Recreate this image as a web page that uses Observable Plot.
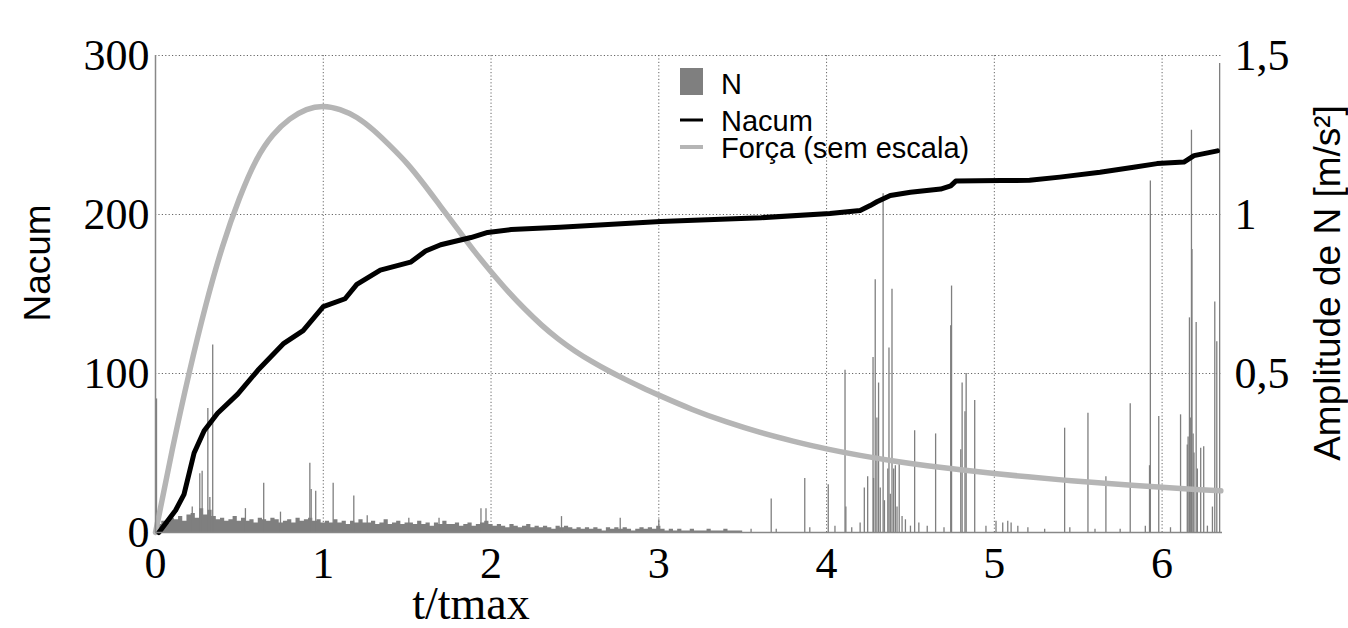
<!DOCTYPE html>
<html><head><meta charset="utf-8">
<script src="https://cdn.jsdelivr.net/npm/d3@7"></script>
<script src="https://cdn.jsdelivr.net/npm/@observablehq/plot@0.6"></script>
<style>
body{margin:0;background:#fff;}
#wrap{position:relative;width:1348px;height:628px;overflow:hidden;}
#leg{position:absolute;left:0;top:0;pointer-events:none;}
</style></head><body><div id="wrap"></div>
<script>
// ---------- data ----------
const xTicks = [0, 1, 2, 3, 4, 5, 6];
const leftTicks = [0, 100, 200, 300];
const rightTicks = [0.5, 1, 1.5];

// Força (sem escala) curve, drawn on the Nacum scale
const forceT = [0, 0.1, 0.2, 0.3, 0.4, 0.5, 0.6, 0.7, 0.8, 0.9, 1.0, 1.1, 1.2, 1.3, 1.4, 1.5, 1.6, 1.7, 1.8, 1.9, 2.0, 2.1, 2.2, 2.3, 2.4, 2.5, 2.6, 2.7, 2.8, 2.9, 3.0, 3.2, 3.4, 3.6, 3.8, 4.0, 4.2, 4.4, 4.6, 4.8, 5.0, 5.2, 5.4, 5.6, 5.8, 6.0, 6.2, 6.35];
const forceV = [0, 52, 100, 143, 180, 210, 234, 250, 260, 266, 268, 266, 261, 253, 243, 232, 219, 205, 191, 177, 164, 151.8, 140.7, 130.6, 121.8, 114.2, 107.6, 101.7, 96.3, 91.2, 86.4, 77.4, 69.7, 63.1, 57.5, 52.6, 48.5, 45, 42, 39.4, 37.1, 35, 33.1, 31.4, 29.9, 28.4, 27.1, 26.2];

// Nacum cumulative count
const nacumT = [0.02, 0.12, 0.17, 0.23, 0.29, 0.37, 0.49, 0.61, 0.765, 0.88, 1.0, 1.13, 1.2, 1.34, 1.52, 1.61, 1.7, 1.88, 1.98, 2.12, 2.41, 3.01, 3.61, 4.02, 4.2, 4.26, 4.3, 4.38, 4.5, 4.68, 4.74, 4.77, 5.04, 5.21, 5.39, 5.63, 5.83, 5.97, 6.13, 6.19, 6.33];
const nacumV = [0, 14, 24, 50, 64, 75, 87, 102, 119, 127, 142, 147, 156, 165, 170, 177, 181, 185.5, 188.7, 190.5, 192, 195.6, 198, 200.6, 202.5, 205.6, 208, 212, 214, 216, 218, 221, 221.4, 221.5, 223.5, 226.6, 229.7, 232, 233, 237, 240];

// N amplitude [m/s²]: low background level, every 0.025 t/tmax from 0
const floorStep = 0.025;
const floorAmp = [0.010,0.025,0.035,0.030,0.045, 0.040,0.050,0.035,0.055, 0.060,0.045,0.075,0.055,0.070,0.050,
  0.040,0.045,0.035,0.040,0.050,0.035, 0.045,0.035,0.040,0.030,0.045,0.040,0.035,0.045,0.040,0.030,
  0.035,0.040,0.030,0.045,0.035,0.040,0.045,0.035,0.040,0.030, 0.035,0.030,0.040,0.030,0.035,0.025,0.035,0.030,0.040,0.030,
  0.030,0.035,0.025,0.030,0.040,0.025,0.030,0.035,0.025,0.030, 0.030,0.025,0.035,0.025,0.030,0.020,0.030,0.025,0.035,0.025,
  0.025,0.030,0.020,0.025,0.030,0.020,0.025,0.030,0.035,0.025, 0.020,0.025,0.020,0.015,0.025,0.020,0.015,0.020,0.025,0.015,
  0.020,0.015,0.020,0.015,0.010,0.020,0.015,0.020,0.015,0.010, 0.015,0.010,0.015,0.010,0.015,0.010,0.005,0.015,0.010,0.015,
  0.010,0.015,0.010,0.005,0.010,0.015,0.010,0.015,0.010,0.020, 0.010,0.005,0.010,0.005,0.010,0.005,0.005,0.010,0.005,0.005,
  0.005,0.010,0.005,0.005,0.005,0.010,0.005,0.005,0.005,0.005];

// N amplitude [m/s²]: individual peaks
const peakT = [0.006, 0.219, 0.264, 0.278, 0.312, 0.324, 0.341, 0.536, 0.645, 0.745, 0.92, 0.928, 0.955, 1.059, 1.182, 1.262,
  1.51, 1.69, 1.94, 1.97, 2.42, 2.77, 3.0, 3.67, 3.87, 4.01, 4.11, 4.115,
  4.225, 4.245, 4.277, 4.28, 4.29, 4.30, 4.31, 4.32, 4.337, 4.345, 4.365, 4.372, 4.38, 4.39, 4.40, 4.41, 4.42, 4.433, 4.45, 4.47,
  4.525, 4.65, 4.74, 4.745, 4.80, 4.808, 4.825, 4.832, 4.883, 5.01,
  5.419, 5.558, 5.665, 5.81, 5.925, 5.93, 5.98, 6.11, 6.15, 6.155, 6.163, 6.168, 6.175, 6.178, 6.185, 6.19, 6.203, 6.21, 6.23, 6.248, 6.3, 6.314, 6.326, 6.343,
  3.55, 3.7, 3.9, 4.05, 4.15, 4.2, 4.5, 4.55, 4.6, 4.7, 4.95, 5.05, 5.08, 5.1, 5.14, 5.2, 5.3, 5.45, 5.6, 5.75, 5.9, 6.05, 6.27];
const peakAmp = [0.42, 0.08, 0.185, 0.193, 0.39, 0.11, 0.59, 0.075, 0.155, 0.064, 0.218, 0.135, 0.13, 0.155, 0.115, 0.053,
  0.045, 0.045, 0.075, 0.075, 0.05, 0.045, 0.04, 0.105, 0.17, 0.15, 0.51, 0.08,
  0.14, 0.175, 0.55, 0.17, 0.795, 0.36, 0.47, 0.14, 1.065, 0.1, 0.2, 0.58, 0.12, 0.765, 0.2, 0.21, 0.08, 0.215, 0.05, 0.04,
  0.32, 0.31, 0.65, 0.775, 0.26, 0.47, 0.38, 0.5, 0.415, 0.035,
  0.328, 0.375, 0.175, 0.405, 0.21, 1.105, 0.365, 0.37, 0.275, 0.3, 0.675, 0.36, 1.265, 0.89, 0.31, 0.25, 0.66, 0.2, 0.265, 0.27, 0.08, 0.725, 0.6, 1.475,
  0.01, 0.01, 0.015, 0.02, 0.015, 0.03, 0.02, 0.03, 0.02, 0.015, 0.02, 0.03, 0.035, 0.03, 0.02, 0.015, 0.01, 0.015, 0.01, 0.01, 0.02, 0.015, 0.02];

// ---------- build ----------
const ampToNacum = 200; // 1,5 m/s² on the right axis  <->  300 on the left axis
const force = forceT.map((t, i) => ({t, v: forceV[i]}));
const nacum = nacumT.map((t, i) => ({t, v: nacumV[i]}));
const floor = floorAmp.map((a, i) => ({t: i * floorStep, v: a * ampToNacum}));
const peaks = peakT.map((t, i) => ({t, v: peakAmp[i] * ampToNacum}));
const fmtComma = v => String(v).replace(".", ",");

const serif = "'Liberation Serif','Times New Roman',serif";
const sans = "'Liberation Sans',Arial,sans-serif";
const NGRAY = "#7f7f7f", FGRAY = "#b5b5b5";

const chart = Plot.plot({
  width: 1348, height: 628,
  marginLeft: 155, marginRight: 126, marginTop: 55, marginBottom: 96,
  x: {domain: [0, 6.36]},
  y: {domain: [0, 300]},
  style: {background: "white"},
  marks: [
    Plot.gridX(xTicks.slice(1), {stroke: "#666", strokeOpacity: 1, strokeWidth: 1, strokeDasharray: "1.2,2.2"}),
    Plot.gridY(leftTicks.slice(1), {stroke: "#666", strokeOpacity: 1, strokeWidth: 1, strokeDasharray: "1.2,2.2"}),
    Plot.areaY(floor, {x: "t", y: "v", fill: NGRAY, curve: "step"}),
    Plot.ruleX(peaks, {x: "t", y1: 0, y2: "v", stroke: NGRAY, strokeWidth: 1.3}),
    Plot.line(force, {x: "t", y: "v", stroke: FGRAY, strokeWidth: 5.5, curve: "natural"}),
    Plot.line(nacum, {x: "t", y: "v", stroke: "#000", strokeWidth: 5, strokeLinejoin: "round", strokeLinecap: "round"}),
    Plot.ruleX([0], {stroke: "#888", strokeWidth: 1.5}),
    Plot.ruleY([0], {stroke: "#888", strokeWidth: 1.5}),
    Plot.axisX({ticks: xTicks, tickFormat: d => String(d), tickSize: 0, tickPadding: 14, fontSize: 44, fontFamily: serif, fill: "#000", label: null}),
    Plot.axisY({anchor: "left", ticks: leftTicks, tickSize: 0, tickPadding: 6, fontSize: 44, fontFamily: serif, fill: "#000", label: null}),
    Plot.axisY({anchor: "right", ticks: rightTicks.map(v => v * ampToNacum), tickFormat: d => fmtComma(d / ampToNacum),
      tickSize: 0, tickPadding: 12, fontSize: 44, fontFamily: serif, fill: "#000", label: null}),
    Plot.text(["t/tmax"], {frameAnchor: "bottom", dx: -218, dy: 72, textAnchor: "middle", lineAnchor: "middle", fontSize: 46, fontFamily: serif, fill: "#000"}),
    Plot.text(["Nacum"], {frameAnchor: "left", dx: -117, dy: -31, rotate: -90, textAnchor: "middle", lineAnchor: "middle", fontSize: 37, fontFamily: sans, fill: "#000"}),
    Plot.text(["Amplitude de N [m/s²]"], {frameAnchor: "right", dx: 106, dy: -11, rotate: -90, textAnchor: "middle", lineAnchor: "middle", fontSize: 37, fontFamily: sans, fill: "#000"})
  ]
});
const wrap = document.getElementById("wrap");
wrap.appendChild(chart);

// legend (inside the plot area, top centre)
const legendItems = ["N", "Nacum", "Força (sem escala)"];
const ns = "http://www.w3.org/2000/svg";
const leg = document.createElementNS(ns, "svg");
leg.setAttribute("id", "leg"); leg.setAttribute("width", 1348); leg.setAttribute("height", 628);
const baselines = [94, 131, 158];
legendItems.forEach((s, i) => {
  const t = document.createElementNS(ns, "text");
  t.setAttribute("x", 721); t.setAttribute("y", baselines[i]);
  t.setAttribute("font-family", sans); t.setAttribute("font-size", 29); t.setAttribute("fill", "#000");
  t.textContent = s; leg.appendChild(t);
});
const sq = document.createElementNS(ns, "rect");
sq.setAttribute("x", 680); sq.setAttribute("y", 68); sq.setAttribute("width", 23); sq.setAttribute("height", 27); sq.setAttribute("fill", NGRAY);
leg.appendChild(sq);
[[120, "#000", 3], [147, FGRAY, 4]].forEach(([y, c, w]) => {
  const l = document.createElementNS(ns, "line");
  l.setAttribute("x1", 680); l.setAttribute("x2", 703); l.setAttribute("y1", y); l.setAttribute("y2", y);
  l.setAttribute("stroke", c); l.setAttribute("stroke-width", w); leg.appendChild(l);
});
wrap.appendChild(leg);
</script></body></html>
